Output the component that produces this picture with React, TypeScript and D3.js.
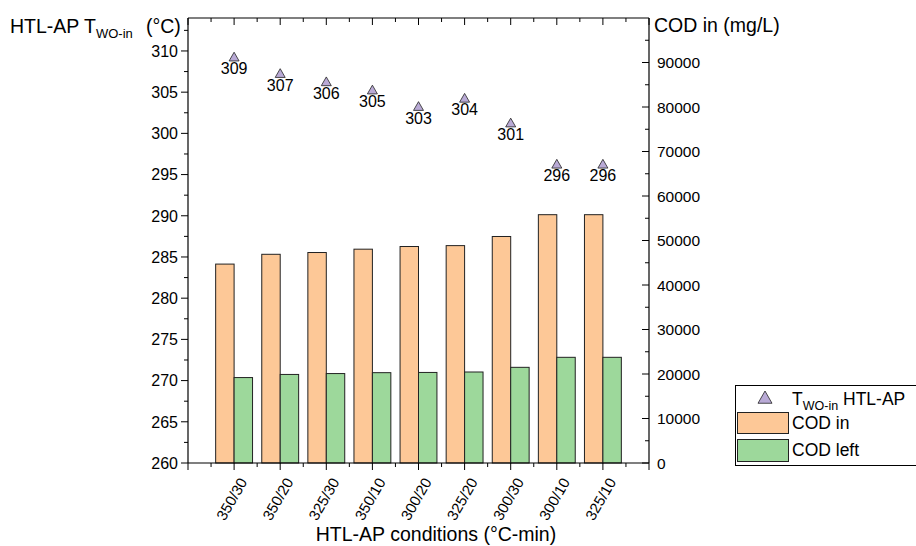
import * as d3 from "d3";

const W = 916;
const H = 546;
const PLOT = { left: 188, right: 649, top: 18, bottom: 463 };
const FONT = "'Liberation Sans', Arial, sans-serif";

// data
const conditions = ["350/30", "350/20", "325/30", "350/10", "300/20", "325/20", "300/30", "300/10", "325/10"];
const codIn = [44700, 46900, 47300, 48050, 48650, 48850, 50900, 55800, 55800];
const codLeft = [19200, 19900, 20100, 20300, 20350, 20450, 21500, 23750, 23750];
const tWoIn = [309, 307, 306, 305, 303, 304, 301, 296, 296];

const leftTicks = [260, 265, 270, 275, 280, 285, 290, 295, 300, 305, 310];
const rightTicks = [0, 10000, 20000, 30000, 40000, 50000, 60000, 70000, 80000, 90000];

const ORANGE = "#fdc897";
const GREEN = "#9dd89b";
const PURPLE = "#b9aad6";
const STROKE = "#222";

const triPath = (cx: number, cy: number, s = 7) =>
  `M${cx},${cy - s}L${cx + s},${cy + s * 0.75}L${cx - s},${cy + s * 0.75}Z`;

export default function App() {
  const x = d3.scaleLinear().domain([0, 10]).range([PLOT.left, PLOT.right]);
  const yL = d3.scaleLinear().domain([260, 314]).range([PLOT.bottom, PLOT.top]);
  const yR = d3.scaleLinear().domain([0, 100000]).range([PLOT.bottom, PLOT.top]);
  const barW = (x(1) - x(0)) * 0.4;

  const majorX = d3.range(0, 11);
  const minorX = d3.range(0.5, 10, 1);
  const minorL = d3.range(262.5, 314, 5);
  const minorR = d3.range(5000, 100000, 10000);

  return (
    <svg width={W} height={H} style={{ position: "absolute", left: 0, top: 0 }} fontFamily={FONT}>
      <rect width={W} height={H} fill="white" />

      {/* bars */}
      {conditions.map((c, i) => {
        const cx = x(i + 1);
        return (
          <g key={c}>
            <rect x={cx - barW} y={yR(codIn[i])} width={barW} height={PLOT.bottom - yR(codIn[i])}
              fill={ORANGE} stroke={STROKE} strokeWidth={1} />
            <rect x={cx} y={yR(codLeft[i])} width={barW} height={PLOT.bottom - yR(codLeft[i])}
              fill={GREEN} stroke={STROKE} strokeWidth={1} />
          </g>
        );
      })}

      {/* triangles + labels */}
      {tWoIn.map((t, i) => {
        const cx = x(i + 1);
        const cy = yL(t);
        return (
          <g key={i}>
            <path d={triPath(cx, cy - 2, 5)} fill={PURPLE} stroke={STROKE} strokeWidth={0.8} />
            <text x={cx} y={cy + 15} textAnchor="middle" fontSize={16}>{t}</text>
          </g>
        );
      })}

      {/* frame */}
      <g stroke="black" strokeWidth={1.2} fill="none">
        <line x1={PLOT.left} x2={PLOT.left} y1={PLOT.top} y2={PLOT.bottom} />
        <line x1={PLOT.right} x2={PLOT.right} y1={PLOT.top} y2={PLOT.bottom} />
        <line x1={PLOT.left} x2={PLOT.right} y1={PLOT.top} y2={PLOT.top} />
        <line x1={PLOT.left} x2={PLOT.right} y1={PLOT.bottom} y2={PLOT.bottom} />
      </g>

      {/* bottom / top ticks */}
      <g stroke="black" strokeWidth={1}>
        {majorX.map((v) => (
          <g key={"mx" + v}>
            <line x1={x(v)} x2={x(v)} y1={PLOT.bottom} y2={PLOT.bottom + 7} />
            <line x1={x(v)} x2={x(v)} y1={PLOT.top} y2={PLOT.top + 7} />
          </g>
        ))}
        {minorX.map((v) => (
          <g key={"nx" + v}>
            <line x1={x(v)} x2={x(v)} y1={PLOT.bottom} y2={PLOT.bottom + 4} />
            <line x1={x(v)} x2={x(v)} y1={PLOT.top} y2={PLOT.top + 4} />
          </g>
        ))}
        {leftTicks.map((v) => (
          <line key={"l" + v} x1={PLOT.left - 7} x2={PLOT.left} y1={yL(v)} y2={yL(v)} />
        ))}
        {minorL.map((v) => (
          <line key={"ml" + v} x1={PLOT.left - 4} x2={PLOT.left} y1={yL(v)} y2={yL(v)} />
        ))}
        {rightTicks.map((v) => (
          <line key={"r" + v} x1={PLOT.right - 7} x2={PLOT.right} y1={yR(v)} y2={yR(v)} />
        ))}
        {minorR.map((v) => (
          <line key={"mr" + v} x1={PLOT.right - 4} x2={PLOT.right} y1={yR(v)} y2={yR(v)} />
        ))}
      </g>

      {/* tick labels */}
      {leftTicks.map((v) => (
        <text key={"lt" + v} x={PLOT.left - 10} y={yL(v)} dy="0.36em" textAnchor="end" fontSize={16}>{v}</text>
      ))}
      {rightTicks.map((v) => (
        <text key={"rt" + v} x={PLOT.right + 8} y={yR(v)} dy="0.36em" textAnchor="start" fontSize={15.5}>{v}</text>
      ))}
      {conditions.map((c, i) => (
        <text key={"c" + c} transform={`translate(${x(i + 1) + 9},${PLOT.bottom + 16}) rotate(-60)`}
          textAnchor="end" dy="0.36em" fontSize={15}>{c}</text>
      ))}

      {/* axis titles */}
      <text x={10} y={33} fontSize={19.5}>
        HTL-AP T<tspan fontSize={13} dy={5}>WO-in</tspan>
      </text>
      <text x={146} y={33} fontSize={19.5}>(°C)</text>
      <text x={654} y={32} fontSize={19.5}>COD in (mg/L)</text>
      <text x={436} y={541} textAnchor="middle" fontSize={19.5}>HTL-AP conditions (°C-min)</text>

      {/* legend */}
      <g>
        <rect x={735.5} y={385.5} width={190} height={80} fill="white" stroke="black" strokeWidth={1} />
        <path d={triPath(765, 398)} fill={PURPLE} stroke={STROKE} strokeWidth={0.8} />
        <text x={792} y={405} fontSize={17.5}>
          T<tspan fontSize={12.5} dy={5}>WO-in</tspan><tspan dy={-5}> HTL-AP</tspan>
        </text>
        <rect x={737.5} y={412.5} width={51} height={21} fill={ORANGE} stroke={STROKE} />
        <text x={792} y={429} fontSize={17.5}>COD in</text>
        <rect x={737.5} y={439.5} width={51} height={22} fill={GREEN} stroke={STROKE} />
        <text x={792} y={456} fontSize={17.5}>COD left</text>
      </g>
    </svg>
  );
}
